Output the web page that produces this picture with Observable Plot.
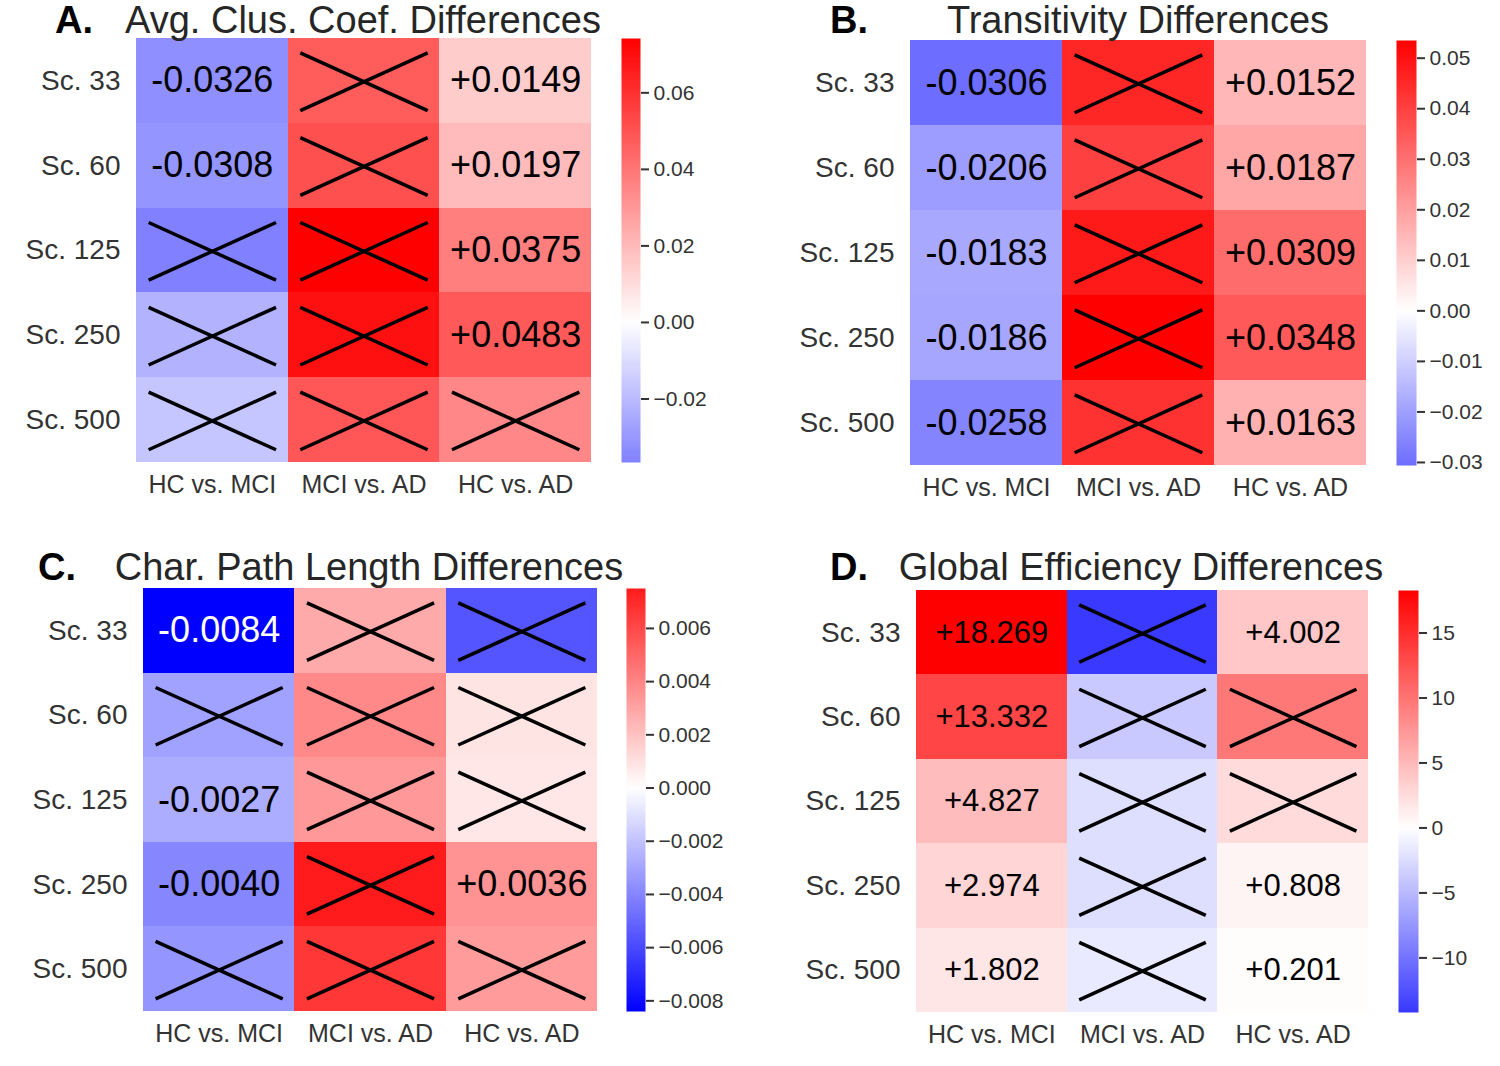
<!DOCTYPE html>
<html><head><meta charset="utf-8">
<script src="https://cdn.jsdelivr.net/npm/d3@7"></script>
<script src="https://cdn.jsdelivr.net/npm/@observablehq/plot@0.6"></script>
<style>
body{margin:0;background:#fff;font-family:"Liberation Sans",Arial,sans-serif;}
#page{position:relative;width:1500px;height:1066px;overflow:hidden;background:#fff}
.ttl{position:absolute;font-size:38px;color:#262626;white-space:nowrap;line-height:1;transform:translateX(-50%)}
.lt{position:absolute;font-size:38px;font-weight:bold;color:#000;line-height:1;white-space:nowrap}
</style></head><body><div id="page"></div>
<script>
// ---------- data ----------
const rows = ["Sc. 33", "Sc. 60", "Sc. 125", "Sc. 250", "Sc. 500"];
const cols = ["HC vs. MCI", "MCI vs. AD", "HC vs. AD"];

// A. Avg. Clus. Coef. differences (per column, rows Sc.33..Sc.500)
const clusHCvsMCI = [-0.0326, -0.0308, -0.0366, -0.0223, -0.0170];
const clusMCIvsAD = [0.0475, 0.0510, 0.0742, 0.0695, 0.0490];
const clusHCvsAD  = [0.0149, 0.0197, 0.0375, 0.0483, 0.0350];
const clusSig = [[1,1,0,0,0],[0,0,0,0,0],[1,1,1,1,0]];
const clusTicks = [-0.02, 0.00, 0.02, 0.04, 0.06];

// B. Transitivity differences
const transHCvsMCI = [-0.0306, -0.0206, -0.0183, -0.0186, -0.0258];
const transMCIvsAD = [0.0455, 0.0400, 0.0480, 0.0535, 0.0430];
const transHCvsAD  = [0.0152, 0.0187, 0.0309, 0.0348, 0.0163];
const transSig = [[1,1,1,1,1],[0,0,0,0,0],[1,1,1,1,1]];
const transTicks = [-0.03, -0.02, -0.01, 0.00, 0.01, 0.02, 0.03, 0.04, 0.05];

// C. Char. path length differences
const cplHCvsMCI = [-0.0084, -0.0031, -0.0027, -0.0040, -0.0035];
const cplMCIvsAD = [0.0028, 0.0039, 0.0034, 0.0075, 0.0066];
const cplHCvsAD  = [-0.0056, 0.0009, 0.0008, 0.0036, 0.0033];
const cplSig = [[1,0,1,1,0],[0,0,0,0,0],[0,0,0,1,0]];
const cplTicks = [-0.008, -0.006, -0.004, -0.002, 0.000, 0.002, 0.004, 0.006];

// D. Global efficiency differences
const geHCvsMCI = [18.269, 13.332, 4.827, 2.974, 1.802];
const geMCIvsAD = [-14.2, -3.9, -2.4, -2.4, -1.6];
const geHCvsAD  = [4.002, 9.7, 2.6, 0.808, 0.201];
const geSig = [[1,1,1,1,1],[0,0,0,0,0],[1,0,0,1,1]];
const geTicks = [-10, -5, 0, 5, 10, 15];

// ---------- layout ----------
const panels = [
  {letter:"A.", title:"Avg. Clus. Coef. Differences", series:[clusHCvsMCI, clusMCIvsAD, clusHCvsAD], sig:clusSig,
   ticks:clusTicks, tf:".2f", digits:4, fs:36, hx:136, hy:38, hw:455, hh:424, cx:621, cw:19, lx:55, tcx:363, base:33.5},
  {letter:"B.", title:"Transitivity Differences", series:[transHCvsMCI, transMCIvsAD, transHCvsAD], sig:transSig,
   ticks:transTicks, tf:".2f", digits:4, fs:36, hx:910, hy:40, hw:456, hh:425, cx:1396, cw:20, lx:830, tcx:1138, base:33.5},
  {letter:"C.", title:"Char. Path Length Differences", series:[cplHCvsMCI, cplMCIvsAD, cplHCvsAD], sig:cplSig,
   ticks:cplTicks, tf:".3f", digits:4, fs:36, hx:143, hy:588, hw:454, hh:423, cx:626, cw:19, lx:38, tcx:369, base:580},
  {letter:"D.", title:"Global Efficiency Differences", series:[geHCvsMCI, geMCIvsAD, geHCvsAD], sig:geSig,
   ticks:geTicks, tf:"d", digits:3, fs:31, hx:916, hy:590, hw:452, hh:422, cx:1398, cw:20, lx:830, tcx:1141, base:580}
];

const page = document.getElementById("page");
const FONT = "'Liberation Sans', Arial, sans-serif";
const ML = 140, MB = 52;

function place(el, left, top) {
  el.style.position = "absolute"; el.style.left = left + "px"; el.style.top = top + "px";
  page.appendChild(el);
}

for (const p of panels) {
  const data = [];
  p.series.forEach((vals, c) => vals.forEach((v, r) => data.push({row: r, col: c, value: v, sig: p.sig[c][r]})));
  const s = d3.max(data, d => Math.abs(d.value));
  const ext = d3.extent(data, d => d.value);
  const color = {type: "linear", domain: [-s, 0, s], range: ["#0000ff", "#ffffff", "#ff0000"], interpolate: "rgb"};
  const fmt = v => (v >= 0 ? "+" : "-") + Math.abs(v).toFixed(p.digits);
  const shown = data.filter(d => d.sig);
  const crossed = data.filter(d => !d.sig);

  const hm = Plot.plot({
    width: ML + p.hw, height: p.hh + MB,
    marginLeft: ML, marginRight: 0, marginTop: 0, marginBottom: MB,
    style: {fontFamily: FONT, color: "#333", background: "transparent", overflow: "visible"},
    x: {domain: [0, 3], axis: null},
    y: {domain: [0, 5], reverse: true, axis: null},
    color,
    marks: [
      Plot.rect(data, {x1: "col", x2: d => d.col + 1, y1: "row", y2: d => d.row + 1, fill: "value", shapeRendering: "crispEdges"}),
      Plot.text(shown.filter(d => d.value > -0.9 * s), {x: d => d.col + 0.5, y: d => d.row + 0.5, text: d => fmt(d.value), fontSize: p.fs, fill: "#000"}),
      Plot.text(shown.filter(d => d.value <= -0.9 * s), {x: d => d.col + 0.5, y: d => d.row + 0.5, text: d => fmt(d.value), fontSize: p.fs, fill: "#fff"}),
      Plot.link(crossed, {x1: d => d.col + 0.08, x2: d => d.col + 0.92, y1: d => d.row + 0.17, y2: d => d.row + 0.85, stroke: "#000", strokeWidth: 3.5}),
      Plot.link(crossed, {x1: d => d.col + 0.08, x2: d => d.col + 0.92, y1: d => d.row + 0.85, y2: d => d.row + 0.17, stroke: "#000", strokeWidth: 3.5}),
      Plot.axisY({ticks: rows.map((_, i) => i + 0.5), tickFormat: d => rows[Math.floor(d)], tickSize: 0, tickPadding: 16, fontSize: 28, label: null}),
      Plot.axisX({ticks: cols.map((_, i) => i + 0.5), tickFormat: d => cols[Math.floor(d)], tickSize: 0, tickPadding: 13, fontSize: 25, label: null, anchor: "bottom"})
    ]
  });
  place(hm, p.hx - ML, p.hy);

  const cb = Plot.plot({
    width: p.cw + 100, height: p.hh,
    marginLeft: 0, marginRight: 100, marginTop: 0, marginBottom: 0,
    style: {fontFamily: FONT, color: "#333", background: "transparent", overflow: "visible"},
    x: {domain: [0, 1], axis: null},
    y: {domain: ext, axis: null},
    color,
    marks: [
      Plot.raster({x1: 0, x2: 1, y1: ext[0], y2: ext[1], width: 1, height: 400, fill: (x, y) => y, imageRendering: "auto"}),
      Plot.axisY({anchor: "right", ticks: p.ticks, tickFormat: d3.format(p.tf), tickSize: 8, tickPadding: 5, fontSize: 21, label: null, strokeWidth: 2})
    ]
  });
  place(cb, p.cx, p.hy);

  const lt = document.createElement("div"); lt.className = "lt"; lt.textContent = p.letter;
  place(lt, p.lx, p.base - 32.2);
  const tt = document.createElement("div"); tt.className = "ttl"; tt.textContent = p.title;
  place(tt, p.tcx, p.base - 32.2);
}
</script></body></html>
